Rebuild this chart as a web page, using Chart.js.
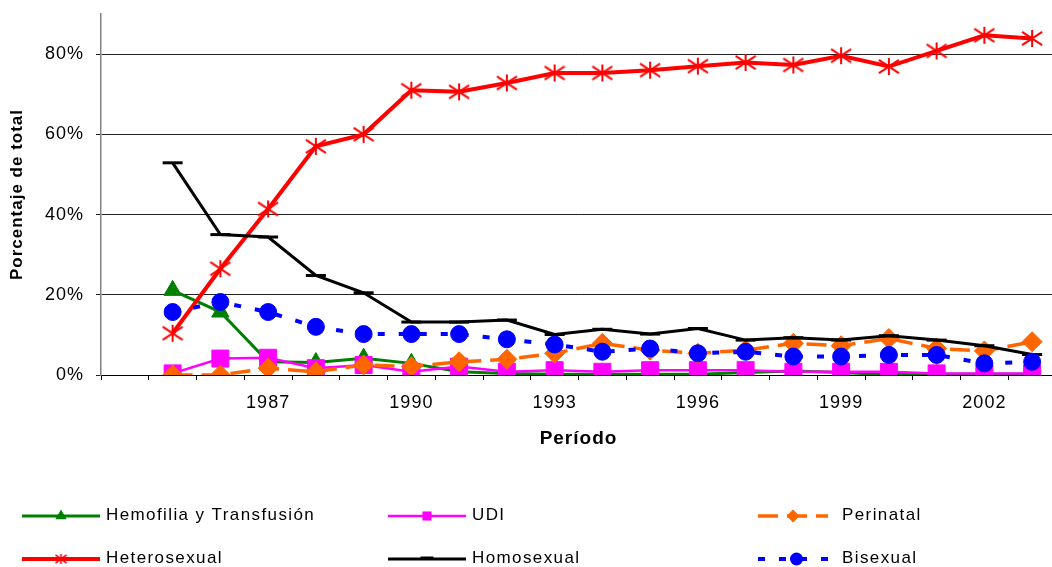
<!DOCTYPE html>
<html>
<head>
<meta charset="utf-8">
<script src="https://cdn.jsdelivr.net/npm/chart.js@4.4.1/dist/chart.umd.min.js"></script>
<style>
html, body { margin: 0; padding: 0; background: #fff; overflow: hidden; }
#wrap { position: relative; width: 1070px; height: 567px; }
</style>
</head>
<body>
<div id="wrap"><canvas id="chart"></canvas></div>
<script>
// categories (first slot is empty in the original)
var years = ['1984', '1985', '1986', '1987', '1988', '1989', '1990', '1991', '1992', '1993',
             '1994', '1995', '1996', '1997', '1998', '1999', '2000', '2001', '2002', '2003'];
var tickYears = ['1987', '1990', '1993', '1996', '1999', '2002'];

// porcentaje de total, por vía de transmisión
var hemofilia   = [null, 21.1, 15.7, 3.3, 3.1, 4.2, 2.9, 0.8, 0.4, 0.2, 0.2, 0.2, 0.2, 0.6, 1.0, 0.6, 0.1, 0.2, 0.2, 0.2];
var udi         = [null, 0.4, 4.1, 4.3, 1.7, 2.5, 0.8, 2.1, 0.8, 1.2, 0.8, 1.2, 1.2, 1.2, 0.8, 0.8, 0.8, 0.4, 0.4, 0.4];
var perinatal   = [null, 0, 0, 1.7, 0.8, 2.5, 2.1, 3.3, 3.9, 5.4, 7.9, 6.2, 5.4, 6.2, 7.9, 7.3, 9.1, 6.6, 6.0, 8.3];
var heterosex   = [null, 10.4, 26.5, 41.4, 57.0, 60.0, 71.0, 70.6, 72.8, 75.3, 75.3, 76.0, 77.0, 77.9, 77.3, 79.6, 76.9, 80.8, 84.7, 83.9];
var homosex     = [null, 52.9, 35.0, 34.4, 24.8, 20.5, 13.2, 13.2, 13.7, 10.1, 11.4, 10.2, 11.6, 8.7, 9.3, 8.7, 9.8, 8.7, 7.3, 5.1];
var bisexual    = [null, 15.7, 18.2, 15.7, 12.0, 10.2, 10.2, 10.2, 8.9, 7.6, 5.8, 6.6, 5.4, 5.8, 4.6, 4.6, 5.0, 5.0, 2.9, 3.3];

var FONT = '"Liberation Sans", Arial, sans-serif';

// excel style asterisk marker: vertical bar plus an X
function asterisk(color, w, h, lw) {
    var c = document.createElement('canvas');
    c.width = w; c.height = h;
    var g = c.getContext('2d');
    var mx = w / 2, my = h / 2;
    g.strokeStyle = color;
    g.lineWidth = lw;
    g.beginPath();
    g.moveTo(mx, 1); g.lineTo(mx, h - 1);
    g.moveTo(1, my - h * 0.35); g.lineTo(w - 1, my + h * 0.35);
    g.moveTo(w - 1, my - h * 0.35); g.lineTo(1, my + h * 0.35);
    g.stroke();
    return c;
}
var starBig = asterisk('#ff0000', 22, 19, 2);
var starSmall = asterisk('#ff0000', 13, 12, 1.6);

function drawMark(ctx, ds, x, y, r) {
    var s = ds.pointStyle, col = ds.borderColor;
    ctx.save();
    ctx.fillStyle = col;
    ctx.strokeStyle = col;
    ctx.setLineDash([]);
    ctx.beginPath();
    if (s === 'triangle') {
        ctx.moveTo(x, y - r);
        ctx.lineTo(x + r * 0.866, y + r / 2);
        ctx.lineTo(x - r * 0.866, y + r / 2);
        ctx.closePath();
        ctx.fill();
    } else if (s === 'rect') {
        ctx.fillRect(x - r * 0.7, y - r * 0.7, r * 1.4, r * 1.4);
    } else if (s === 'rectRot') {
        ctx.moveTo(x, y - r); ctx.lineTo(x + r, y); ctx.lineTo(x, y + r); ctx.lineTo(x - r, y);
        ctx.closePath();
        ctx.fill();
    } else if (s === 'circle') {
        ctx.arc(x, y, r, 0, Math.PI * 2);
        ctx.fill();
    } else if (s === 'line') {
        ctx.lineWidth = 3;
        ctx.moveTo(x - r, y - 1); ctx.lineTo(x + r, y - 1);
        ctx.stroke();
    } else {
        ctx.drawImage(starSmall, x - starSmall.width / 2, y - starSmall.height / 2);
    }
    ctx.restore();
}

// legend in three columns, two rows, drawn under the axis title
var rowLegend = {
    id: 'rowLegend',
    afterDraw: function(chart, args, opts) {
        var ctx = chart.ctx;
        ctx.save();
        chart.data.datasets.forEach(function(ds, i) {
            var sl = opts.slots[i];
            ctx.strokeStyle = ds.borderColor;
            ctx.lineWidth = ds.borderWidth;
            ctx.setLineDash(ds.borderDash || []);
            ctx.beginPath();
            ctx.moveTo(sl[0], sl[3]);
            ctx.lineTo(sl[1], sl[3]);
            ctx.stroke();
            drawMark(ctx, ds, (sl[0] + sl[1]) / 2, sl[3], opts.markSize);
            ctx.setLineDash([]);
            ctx.fillStyle = '#000';
            ctx.font = '17px ' + FONT;
            ctx.letterSpacing = '1.4px';
            ctx.textBaseline = 'middle';
            ctx.textAlign = 'left';
            ctx.fillText(ds.label, sl[2], sl[3] - 1);
        });
        ctx.restore();
    }
};

// slightly wider letter spacing, like the original rendering
var spacing = {
    id: 'spacing',
    beforeLayout: function(c) { c.ctx.letterSpacing = '1px'; },
    beforeDraw: function(c) { c.ctx.letterSpacing = '1px'; }
};

document.addEventListener('DOMContentLoaded', function() {
    var ctx = document.getElementById('chart').getContext('2d');
    new Chart(ctx, {
        type: 'line',
        data: {
            labels: years,
            datasets: [{
                label: 'Hemofilia y Transfusión',
                data: hemofilia,
                borderColor: '#008000', backgroundColor: '#008000', borderWidth: 3,
                pointStyle: 'triangle', pointRadius: 10, pointBorderWidth: 1,
                pointBackgroundColor: '#008000', pointBorderColor: '#008000',
                order: 6
            }, {
                label: 'UDI',
                data: udi,
                borderColor: '#ff00ff', backgroundColor: '#ff00ff', borderWidth: 2.5,
                pointStyle: 'rect', pointRadius: 12, pointBorderWidth: 1,
                pointBackgroundColor: '#ff00ff', pointBorderColor: '#ff00ff',
                order: 5
            }, {
                label: 'Perinatal',
                data: perinatal,
                borderColor: '#ff6600', backgroundColor: '#ff6600', borderWidth: 3.5,
                borderDash: [20, 9],
                pointStyle: 'rectRot', pointRadius: 10, pointBorderWidth: 1,
                pointBackgroundColor: '#ff6600', pointBorderColor: '#ff6600',
                order: 4
            }, {
                label: 'Heterosexual',
                data: heterosex,
                borderColor: '#ff0000', backgroundColor: '#ff0000', borderWidth: 4,
                pointStyle: starBig, pointRadius: 10,
                order: 3
            }, {
                label: 'Homosexual',
                data: homosex,
                borderColor: '#000000', backgroundColor: '#000000', borderWidth: 3,
                pointStyle: 'line', pointRadius: 10, pointBorderWidth: 3,
                pointBorderColor: '#000000',
                order: 2
            }, {
                label: 'Bisexual',
                data: bisexual,
                borderColor: '#0000ff', backgroundColor: '#0000ff', borderWidth: 4,
                borderDash: [7, 14],
                pointStyle: 'circle', pointRadius: 8.5, pointBorderWidth: 1,
                pointBackgroundColor: '#0000ff', pointBorderColor: '#0000ff',
                order: 1
            }]
        },
        options: {
            responsive: true,
            maintainAspectRatio: false,
            animation: false,
            events: [],
            layout: { padding: { top: 13, right: 9, bottom: 112, left: 0 } },
            elements: { line: { tension: 0 } },
            scales: {
                x: {
                    type: 'category',
                    offset: true,
                    grid: { offset: true, drawOnChartArea: false, tickLength: 5, color: '#000' },
                    border: { color: '#000', width: 1 },
                    ticks: {
                        autoSkip: false, maxRotation: 0, minRotation: 0, padding: 12,
                        color: '#000', font: { family: FONT, size: 18 },
                        callback: function(v) {
                            var l = this.getLabelForValue(v);
                            return tickYears.indexOf(l) >= 0 ? l : '';
                        }
                    },
                    title: {
                        display: true, text: 'Período', color: '#000',
                        font: { family: FONT, size: 19, weight: 'bold' },
                        padding: { top: 0, bottom: 5 }
                    },
                    afterFit: function(s) { s.height = 80; }
                },
                y: {
                    min: 0, max: 90,
                    ticks: {
                        stepSize: 20, padding: 12, color: '#000',
                        font: { family: FONT, size: 18 },
                        callback: function(v) { return v + '%'; }
                    },
                    afterBuildTicks: function(s) {
                        s.ticks = s.ticks.filter(function(t) { return t.value <= 80; });
                    },
                    grid: { color: '#222', lineWidth: 1, tickLength: 5 },
                    border: { color: '#808080', width: 1.5 },
                    title: {
                        display: true, text: 'Porcentaje de total', color: '#000',
                        font: { family: FONT, size: 17, weight: 'bold' },
                        padding: { top: 7, bottom: 0 }
                    },
                    afterFit: function(s) {
                        s.width = 101;
                        s.paddingTop = 0;
                        s.paddingBottom = 0;
                    }
                }
            },
            plugins: {
                legend: { display: false },
                tooltip: { enabled: false },
                rowLegend: {
                    markSize: 6.5,
                    // [line start, line end, text x, y]
                    slots: [
                        [22, 100, 106, 516], [388, 466, 472, 516], [758, 828, 842, 516],
                        [22, 100, 106, 559], [388, 466, 472, 559], [758, 835, 842, 559]
                    ]
                }
            }
        },
        plugins: [spacing, rowLegend]
    });
});
</script>
</body>
</html>
